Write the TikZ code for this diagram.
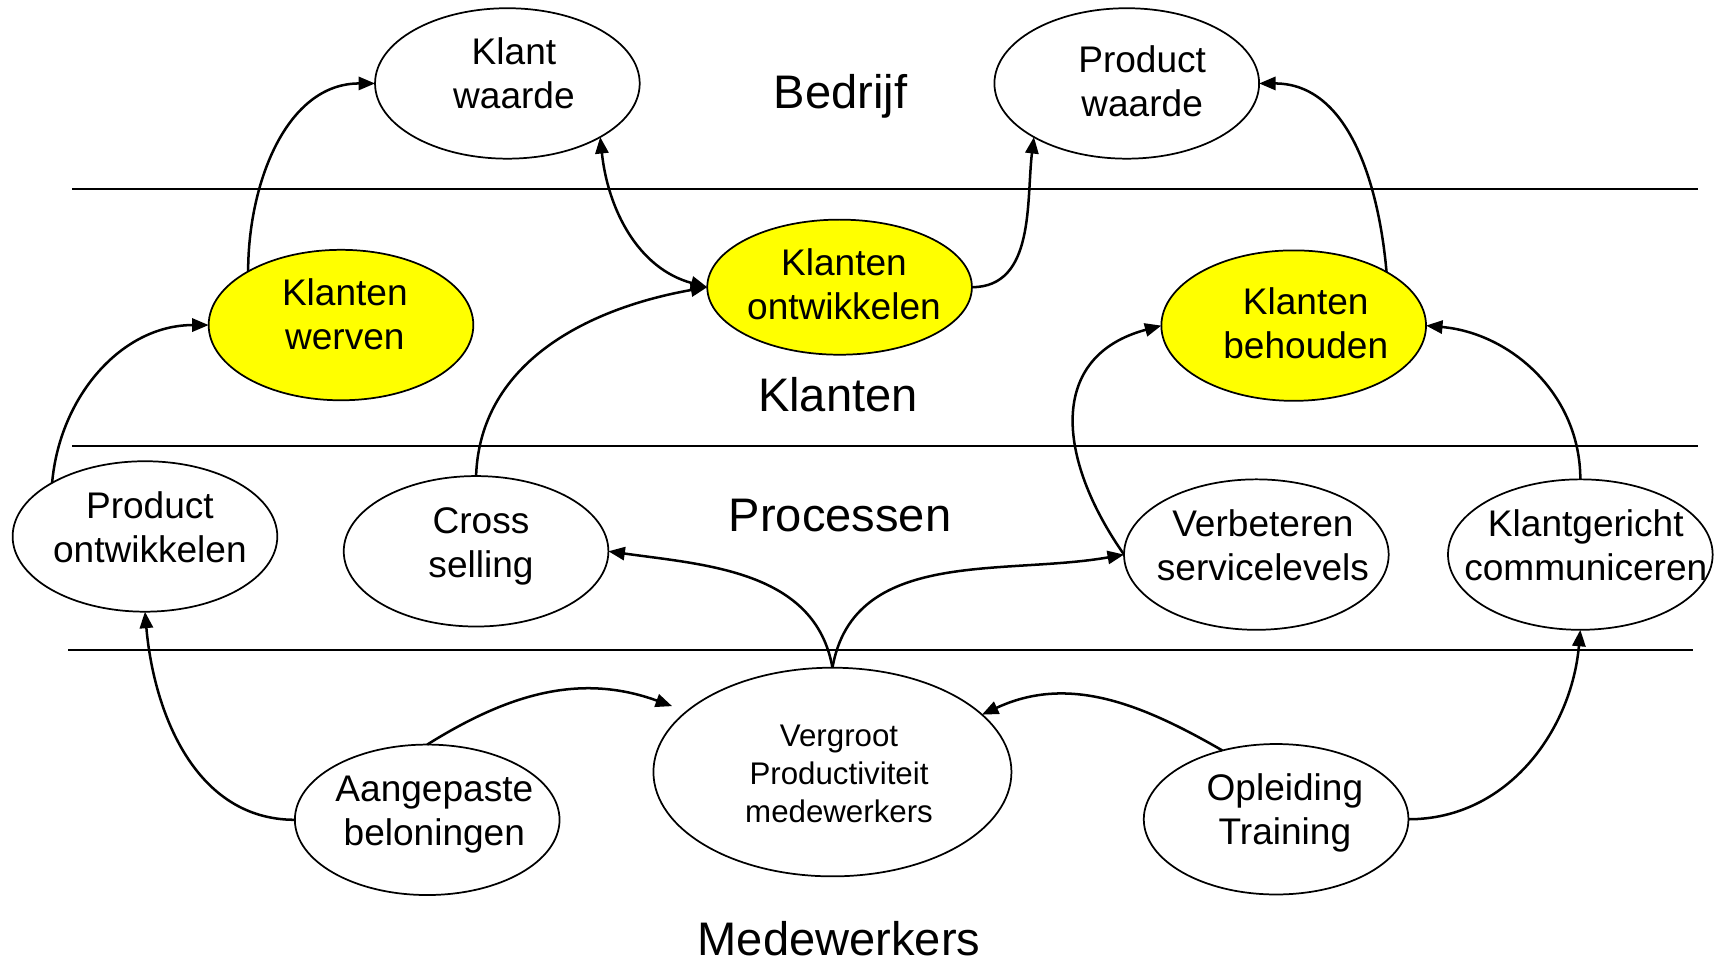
\documentclass[tikz,border=0pt]{standalone}
\usepackage{fontspec}
\setmainfont{Liberation Sans}
\usetikzlibrary{shapes.geometric,arrows.meta}
\definecolor{hl}{RGB}{255,255,0}
\newcommand\stacktext[1]{\begin{tabular}[t]{@{}c@{}}#1\end{tabular}}
\begin{document}
\begin{tikzpicture}[x=0.1mm,y=0.1mm,
  bubble/.style={ellipse, draw, line width=0.45pt, inner sep=0pt, outer sep=0pt,
    minimum width=24.1mm, minimum height=13.7mm},
  yellowbubble/.style={bubble, fill=hl},
  lbl/.style={inner sep=0pt, anchor=base, font=\fontsize{9.6}{11.45}\selectfont},
  smalllbl/.style={inner sep=0pt, anchor=base, font=\fontsize{8.1}{9.75}\selectfont},
  layer/.style={inner sep=0pt, anchor=base, font=\fontsize{12.2}{14}\selectfont},
  sep/.style={line width=0.5pt},
  tip/.tip={Triangle[length=1.5mm,width=1.2mm]},
  link/.style={line width=0.65pt, -tip},
  bilink/.style={line width=0.65pt, tip-tip}]
\useasboundingbox (0,0) rectangle (1568,874);

% layer separators
\coordinate (s1a) at (66,702);  \coordinate (s1b) at (1546,702);
\coordinate (s2a) at (66,468);  \coordinate (s2b) at (1546,468);
\coordinate (s3a) at (62,282);  \coordinate (s3b) at (1542,282);
\draw[sep] (s1a) -- (s1b);
\draw[sep] (s2a) -- (s2b);
\draw[sep] (s3a) -- (s3b);

% layer titles
\node[layer] (tBedrijf) at (765.5,775.3) {Bedrijf};
\node[layer] (tKlanten) at (763,499) {Klanten};
\node[layer] (tProc) at (765,390) {Processen};
\node[layer] (tMedew) at (764,4) {Medewerkers};

% ellipses
\node[bubble] (kw) at (462,798) {};
\node[bubble] (pw) at (1026,798) {};
\node[yellowbubble] (kww) at (310.5,578) {};
\node[yellowbubble, minimum height=12.3mm] (ko) at (764.5,612.5) {};
\node[yellowbubble] (kb) at (1178,577.5) {};
\node[bubble] (po) at (132,385.5) {};
\node[bubble] (cs) at (433.5,372) {};
\node[bubble] (vs) at (1144,369) {};
\node[bubble] (kc) at (1439,369) {};
\node[bubble, minimum width=32.6mm, minimum height=19mm] (vg) at (758,171) {};
\node[bubble] (ab) at (389,127.5) {};
\node[bubble] (ol) at (1162,128) {};

% ellipse texts
\node[lbl] (kwt) at (468,815.7) {\stacktext{Klant\\waarde}};
\node[lbl] (pwt) at (1040,807.8) {\stacktext{Product\\waarde}};
\node[lbl] (kwwt) at (314,596.2) {\stacktext{Klanten\\werven}};
\node[lbl] (kot) at (768.5,623.5) {\stacktext{Klanten\\ontwikkelen}};
\node[lbl] (kbt) at (1189,587.7) {\stacktext{Klanten\\behouden}};
\node[lbl] (pot) at (136.5,401.8) {\stacktext{Product\\ontwikkelen}};
\node[lbl] (cst) at (438,388.6) {\stacktext{Cross\\selling}};
\node[lbl] (vst) at (1150,385.8) {\stacktext{Verbeteren\\servicelevels}};
\node[lbl] (kct) at (1444,385.8) {\stacktext{Klantgericht\\communiceren}};
\node[smalllbl] (vgt) at (764,193.8) {\stacktext{Vergroot\\Productiviteit\\medewerkers}};
\node[lbl] (abt) at (395.5,144) {\stacktext{Aangepaste\\beloningen}};
\node[lbl] (olt) at (1170,145.4) {\stacktext{Opleiding\\Training}};

% free end of the arrow towards the productivity ellipse
\coordinate (vgin) at (612,231);

% connectors
\draw[link] (kww.150) to[out=90,in=180] (kw.west);
\draw[link] (po.150) to[out=85,in=180] (kww.west);
\draw[bilink] (kw.-30) to[out=-84,in=165] (ko.west);
\draw[link] (ko.east) to[out=0,in=-97] (pw.210);
\draw[link] (kb.30) to[out=95,in=0] (pw.east);
\draw[link] (cs.north) to[out=88,in=190] (ko.west);
\draw[link] (vs.west) to[out=125,in=195,looseness=1.3] (kb.west);
\draw[link] (kc.north) to[out=90,in=-5] (kb.east);
\draw[link] (vg.north) to[out=100,in=-8] (cs.east);
\draw[link] (vg.north) to[out=80,in=190] (vs.west);
\draw[link] (ab.north) to[out=32,in=160] (vgin);
\draw[link] (ol.128) to[out=150,in=25] (vg.21);
\draw[link] (ab.west) to[out=180,in=-85] (po.south);
\draw[link] (ol.east) to[out=0,in=-95] (kc.south);
\end{tikzpicture}
\end{document}
